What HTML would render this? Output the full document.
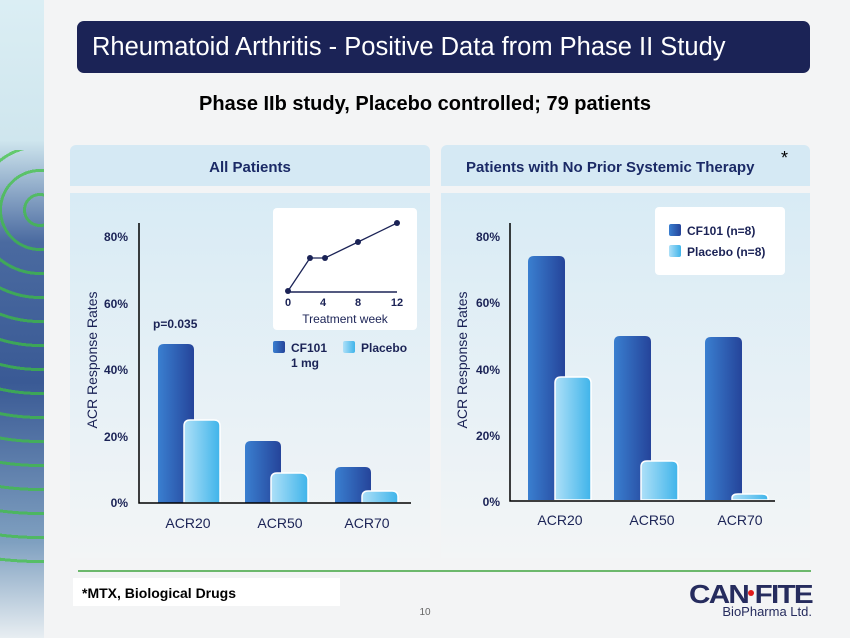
<!DOCTYPE html>
<html><head><style>
body{margin:0;width:850px;height:638px;overflow:hidden;background:#f4f5f6;font-family:"Liberation Sans",sans-serif;position:relative}
.a{position:absolute}
</style></head><body>
<div class="a" style="left:0;top:0;width:44px;height:638px;background:linear-gradient(180deg,#dbeef4 0%,#cfe6ee 22%,#4a6aa0 38%,#3a5a95 60%,#7fa0c0 85%,#e8eef2 100%)"></div>
<div class="a" style="left:0;top:150px;width:44px;height:420px;background:repeating-radial-gradient(circle at 40px 60px,transparent 0 14px,#3cc43c 14px 17px,transparent 17px 24px);opacity:.7"></div>
<div class="a" style="left:44px;top:0;width:806px;height:638px;background:#f3f4f5"></div>
<div class="a" style="left:77px;top:21px;width:733px;height:52px;background:#1b2356;border-radius:7px"></div>
<div class="a" style="left:92px;top:33px;color:#fff;font-size:25.5px;white-space:nowrap">Rheumatoid Arthritis - Positive Data from Phase II Study</div>
<div class="a" style="left:0;width:850px;top:93px;text-align:center;font-weight:bold;font-size:20px;color:#000">Phase IIb study, Placebo controlled; 79 patients</div>
<div class="a" style="left:70px;top:145px;width:360px;height:41px;background:#d5e9f4;border-radius:6px 6px 0 0"></div>
<div class="a" style="left:441px;top:145px;width:369px;height:41px;background:#d5e9f4;border-radius:6px 6px 0 0"></div>
<div class="a" style="left:70px;top:159px;width:360px;text-align:center;font-weight:bold;font-size:15px;color:#1b2a66">All Patients</div>
<div class="a" style="left:466px;top:159px;font-weight:bold;font-size:15px;color:#1b2a66;white-space:nowrap">Patients with No Prior Systemic Therapy</div>
<div class="a" style="left:781px;top:148px;font-size:18px;color:#000">*</div>
<div class="a" style="left:70px;top:193px;width:360px;height:365px;background:linear-gradient(#d8ebf5,#f3f5f6)"></div>
<div class="a" style="left:441px;top:193px;width:369px;height:365px;background:linear-gradient(#d8ebf5,#f3f5f6)"></div>
<svg class="a" style="left:0;top:0" width="850" height="638" font-family="Liberation Sans, sans-serif">
<defs>
<linearGradient id="d" x1="0" x2="1"><stop offset="0" stop-color="#3a7fd0"/><stop offset="1" stop-color="#25449a"/></linearGradient>
<linearGradient id="l" x1="0" x2="1"><stop offset="0" stop-color="#aee0f8"/><stop offset="1" stop-color="#3fb4ea"/></linearGradient>
</defs>
<g font-size="12" font-weight="bold" fill="#1b2356" text-anchor="end">
<text x="128" y="241">80%</text><text x="128" y="308">60%</text><text x="128" y="374">40%</text><text x="128" y="441">20%</text><text x="128" y="507">0%</text>
<text x="500" y="241">80%</text><text x="500" y="307">60%</text><text x="500" y="374">40%</text><text x="500" y="440">20%</text><text x="500" y="506">0%</text>
</g>
<text transform="translate(97,360) rotate(-90)" text-anchor="middle" font-size="14" fill="#1b2356">ACR Response Rates</text>
<text transform="translate(467,360) rotate(-90)" text-anchor="middle" font-size="14" fill="#1b2356">ACR Response Rates</text>
<path d="M158,503V350q0-6 6-6h24q6,0 6,6V503Z" fill="url(#d)"/>
<path d="M184,503V426q0-6 6-6h24q6,0 6,6V503Z" fill="url(#l)" stroke="#fff" stroke-width="1.5"/>
<path d="M245,503V447q0-6 6-6h24q6,0 6,6V503Z" fill="url(#d)"/>
<path d="M271,503V479q0-6 6-6h24q6,0 7,6V503Z" fill="url(#l)" stroke="#fff" stroke-width="1.5"/>
<path d="M335,503V473q0-6 6-6h24q6,0 6,6V503Z" fill="url(#d)"/>
<path d="M362,503V497q0-6 6-6h24q6,0 6,6V503Z" fill="url(#l)" stroke="#fff" stroke-width="1.5"/>
<path d="M139,223V503H411" fill="none" stroke="#000" stroke-width="1.5"/>
<g font-size="14" fill="#1b2356" text-anchor="middle"><text x="188" y="528">ACR20</text><text x="280" y="528">ACR50</text><text x="367" y="528">ACR70</text>
<text x="560" y="525">ACR20</text><text x="652" y="525">ACR50</text><text x="740" y="525">ACR70</text></g>
<text x="153" y="328" font-size="12" font-weight="bold" fill="#1b2356">p=0.035</text>
<rect x="273" y="208" width="144" height="122" rx="4" fill="#fff"/>
<path d="M288,292H397" stroke="#1b2356" stroke-width="1.5"/>
<polyline points="288,291 310,258 325,258 358,242 397,223" fill="none" stroke="#1b2356" stroke-width="1.3"/>
<g fill="#1b2356"><circle cx="288" cy="291" r="3"/><circle cx="310" cy="258" r="3"/><circle cx="325" cy="258" r="3"/><circle cx="358" cy="242" r="3"/><circle cx="397" cy="223" r="3"/></g>
<g font-size="11" font-weight="bold" fill="#1b2356" text-anchor="middle"><text x="288" y="306">0</text><text x="323" y="306">4</text><text x="358" y="306">8</text><text x="397" y="306">12</text></g>
<text x="345" y="323" font-size="12" fill="#1b2356" text-anchor="middle">Treatment week</text>
<rect x="273" y="341" width="12" height="12" rx="2" fill="url(#d)"/>
<rect x="343" y="341" width="12" height="12" rx="2" fill="url(#l)"/>
<g font-size="12" font-weight="bold" fill="#1b2356"><text x="291" y="352">CF101</text><text x="291" y="367">1 mg</text><text x="361" y="352">Placebo</text></g>
<path d="M528,500V262q0-6 6-6h25q6,0 6,6V500Z" fill="url(#d)"/>
<path d="M555,500V383q0-6 6-6h24q6,0 6,6V500Z" fill="url(#l)" stroke="#fff" stroke-width="1.5"/>
<path d="M614,500V342q0-6 6-6h25q6,0 6,6V500Z" fill="url(#d)"/>
<path d="M641,500V467q0-6 6-6h25q6,0 6,6V500Z" fill="url(#l)" stroke="#fff" stroke-width="1.5"/>
<path d="M705,500V343q0-6 6-6h25q6,0 6,6V500Z" fill="url(#d)"/>
<path d="M732,500V498q0-4 6-4h24q6,0 6,4V500Z" fill="url(#l)" stroke="#fff" stroke-width="1.5"/>
<path d="M510,223V501H775" fill="none" stroke="#000" stroke-width="1.5"/>
<rect x="655" y="207" width="130" height="68" rx="4" fill="#fff"/>
<rect x="669" y="224" width="12" height="12" rx="2" fill="url(#d)"/>
<rect x="669" y="245" width="12" height="12" rx="2" fill="url(#l)"/>
<g font-size="12" font-weight="bold" fill="#1b2356"><text x="687" y="235">CF101 (n=8)</text><text x="687" y="256">Placebo (n=8)</text></g>
<path d="M78,571H811" stroke="#6cb86c" stroke-width="2"/>
<rect x="73" y="578" width="267" height="28" fill="#fff"/>
<text x="82" y="598" font-size="14" font-weight="bold" fill="#000">*MTX, Biological Drugs</text>
<text x="425" y="615" font-size="10" fill="#666" text-anchor="middle">10</text>
<text x="689" y="603" font-size="26" font-weight="bold" fill="#262c5e" letter-spacing="-1.5" textLength="123" lengthAdjust="spacingAndGlyphs">CAN FITE</text>
<circle cx="751" cy="593" r="3" fill="#e21a1a"/>
<text x="812" y="616" font-size="13" fill="#262c5e" text-anchor="end">BioPharma Ltd.</text>
</svg>
</body></html>
